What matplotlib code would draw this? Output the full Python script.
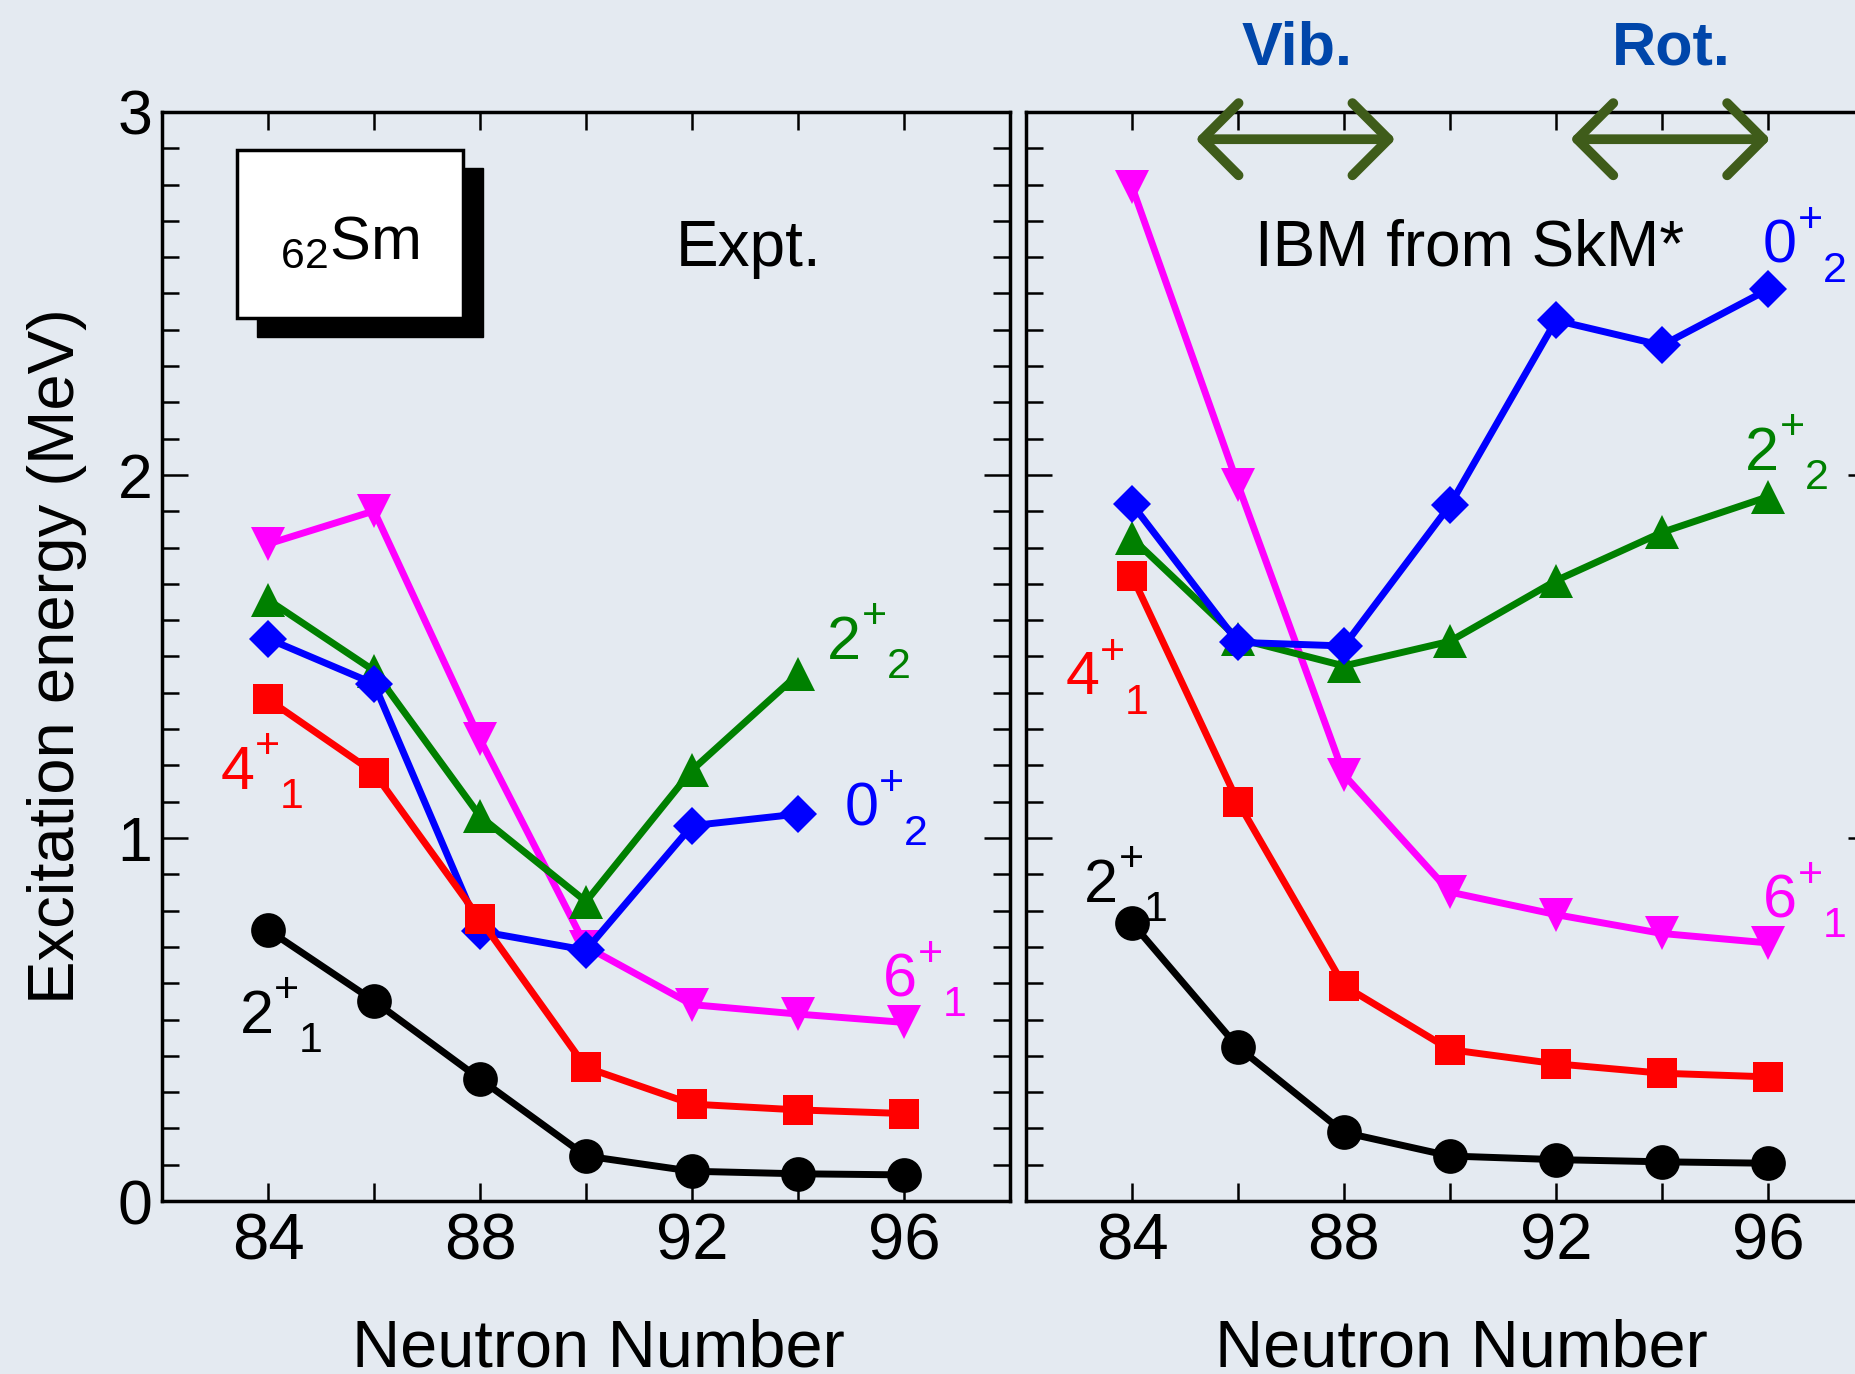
import numpy as np
import matplotlib.pyplot as plt
from matplotlib.patches import Rectangle
from matplotlib.ticker import MultipleLocator

plt.rcParams['font.family'] = ['Liberation Sans', 'DejaVu Sans']
plt.rcParams['mathtext.fontset'] = 'custom'
plt.rcParams['mathtext.rm'] = 'Liberation Sans'
plt.rcParams['mathtext.default'] = 'regular'

# neutron numbers
N = [84, 86, 88, 90, 92, 94, 96]

# Expt. (MeV)
exp_2p1 = [0.747, 0.551, 0.336, 0.124, 0.082, 0.075, 0.072]
exp_4p1 = [1.382, 1.180, 0.776, 0.368, 0.267, 0.251, 0.241]
exp_2p2 = [1.656, 1.461, 1.060, 0.825, 1.187, 1.451]
exp_0p2 = [1.549, 1.425, 0.743, 0.691, 1.034, 1.066]
exp_6p1 = [1.810, 1.901, 1.272, 0.701, 0.541, 0.515, 0.492]

# IBM from SkM* (MeV)
ibm_2p1 = [0.766, 0.424, 0.189, 0.124, 0.114, 0.108, 0.104]
ibm_4p1 = [1.722, 1.099, 0.593, 0.417, 0.378, 0.352, 0.342]
ibm_2p2 = [1.826, 1.549, 1.474, 1.542, 1.709, 1.842, 1.940]
ibm_0p2 = [1.920, 1.539, 1.529, 1.917, 2.426, 2.357, 2.511]
ibm_6p1 = [2.794, 1.973, 1.174, 0.851, 0.789, 0.737, 0.711]

bg = '#e4eaf1'
fig = plt.figure(figsize=(18.56, 13.74), dpi=100, facecolor=bg)
ax1 = fig.add_axes([0.0873, 0.1259, 0.4569, 0.7926])
ax2 = fig.add_axes([0.5528, 0.1259, 0.4569, 0.7926])

# (color, marker, markersize)
styles = {
    '2p1': ('black', 'o', 25),
    '4p1': ('#ff0000', 's', 21),
    '2p2': ('#008000', '^', 24),
    '0p2': ('#0000ff', 'D', 19),
    '6p1': ('#ff00ff', 'v', 24),
}
exp = {'6p1': exp_6p1, '2p2': exp_2p2, '0p2': exp_0p2, '4p1': exp_4p1, '2p1': exp_2p1}
ibm = {'6p1': ibm_6p1, '2p2': ibm_2p2, '0p2': ibm_0p2, '4p1': ibm_4p1, '2p1': ibm_2p1}

for ax, data in [(ax1, exp), (ax2, ibm)]:
    ax.set_facecolor('none')
    for key, vals in data.items():
        c, m, ms = styles[key]
        ax.plot(N[:len(vals)], vals, color=c, marker=m, markersize=ms, lw=5,
                markeredgewidth=0, clip_on=False, zorder=3)
    ax.set_xlim(82, 98)
    ax.set_ylim(0, 3)
    ax.xaxis.set_major_locator(MultipleLocator(4))
    ax.xaxis.set_minor_locator(MultipleLocator(2))
    ax.yaxis.set_major_locator(MultipleLocator(1))
    ax.yaxis.set_minor_locator(MultipleLocator(0.1))
    ax.tick_params(which='both', direction='in', top=True, right=True,
                   width=1.8, colors='black')
    ax.tick_params(axis='x', which='both', length=13, pad=8, labelsize=47)
    ax.tick_params(axis='y', which='major', length=19, pad=7, labelsize=45)
    ax.tick_params(axis='y', which='minor', length=12)
    for s in ax.spines.values():
        s.set_linewidth(2.5)
    ax.set_xlabel('Neutron Number', fontsize=48)
    ax.xaxis.set_label_coords(0.514, -0.108)

ax1.set_ylabel('Excitation energy (MeV)', fontsize=47)
ax1.yaxis.set_label_coords(-0.088, 0.5)
ax2.tick_params(axis='y', labelleft=False)

# level labels: main digit, '+' raised, index lowered
lab = {'2p1': ('2', '1'), '4p1': ('4', '1'), '2p2': ('2', '2'),
       '0p2': ('0', '2'), '6p1': ('6', '1')}
exp_pos = {'2p2': (94.54, 1.493), '0p2': (94.87, 1.034), '6p1': (95.6, 0.564),
           '4p1': (83.1, 1.135), '2p1': (83.46, 0.463)}
ibm_pos = {'0p2': (95.9, 2.586), '2p2': (95.56, 2.015), '4p1': (82.74, 1.396),
           '2p1': (83.1, 0.825), '6p1': (95.9, 0.782)}
for ax, pos in [(ax1, exp_pos), (ax2, ibm_pos)]:
    for key, (x, y) in pos.items():
        col = styles[key][0]
        main, idx = lab[key]
        ax.text(x, y, main, color=col, fontsize=44, ha='left', va='baseline',
                clip_on=False)
        ax.annotate('+', (x, y), xytext=(25, 22), textcoords='offset points',
                    color=col, fontsize=31, va='baseline', annotation_clip=False)
        ax.annotate(idx, (x, y), xytext=(43, -14), textcoords='offset points',
                    color=col, fontsize=31, va='baseline', annotation_clip=False)

ax1.text(91.69, 2.576, 'Expt.', fontsize=46, va='baseline')
ax2.text(86.33, 2.576, 'IBM from SkM*', fontsize=46, va='baseline')

# nucleus box with shadow
ax1.add_patch(Rectangle((83.79, 2.380), 4.27, 0.466, facecolor='black',
                        edgecolor='black', zorder=4))
ax1.add_patch(Rectangle((83.415, 2.432), 4.265, 0.463, facecolor='white',
                        edgecolor='black', lw=2.5, zorder=5))
ax1.text(85.55, 2.598, r'${}_{62}$Sm', fontsize=44, ha='center',
         va='baseline', zorder=6)

# Vib. / Rot. arrows
arrow_col = '#3f5c1a'
for x0, x1, name, xc in [(85.2, 88.97, 'Vib.', 87.11), (92.27, 96.04, 'Rot.', 94.17)]:
    ax2.annotate('', xy=(x1, 2.925), xytext=(x0, 2.925),
                 arrowprops=dict(arrowstyle='<->,head_length=1.3,head_width=1.3',
                                 color=arrow_col, lw=7, mutation_scale=20,
                                 shrinkA=0, shrinkB=0),
                 annotation_clip=False, zorder=6)
    ax2.text(xc, 3.13, name, fontsize=44, fontweight='bold', color='#0046aa',
             ha='center', va='baseline', clip_on=False)

fig.savefig('out.png', dpi=100, facecolor=bg)
